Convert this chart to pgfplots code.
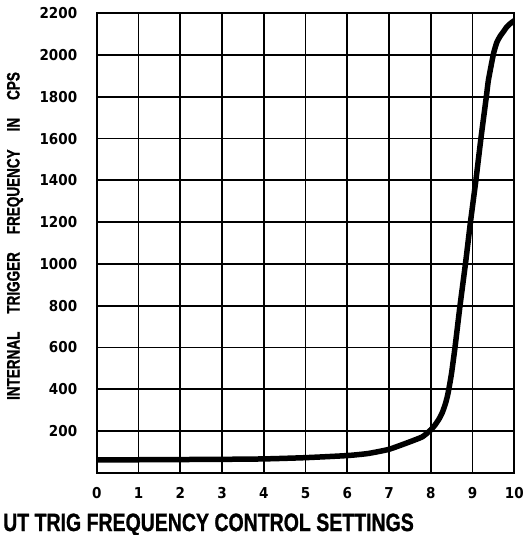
\documentclass[border=0pt]{standalone}
\usepackage{pgfplots}
\pgfplotsset{compat=1.18}
\usepackage{fontspec}
\usepackage{graphicx}
\setmainfont{Liberation Sans}
\newfontfamily\tickfont{DejaVu Sans}[FakeStretch=0.9]
\newfontfamily\titlefont{Liberation Sans}[FakeBold=1.2]
\begin{document}
\begin{tikzpicture}[x=1pt,y=1pt]
\useasboundingbox (0,0) rectangle (524,535);
\begin{axis}[
  at={(96.7pt,62.3pt)}, anchor=south west,
  scale only axis, width=417.6pt, height=459.4pt,
  xmin=0, xmax=10, ymin=0, ymax=2200,
  xtick={0,1,...,10}, ytick={200,400,...,2200},
  grid=major,
  major grid style={black, line width=1.8pt},
  axis line style={black, line width=1.9pt},
  major tick length=0pt,
  tick label style={font=\tickfont\bfseries\fontsize{15}{16}\selectfont},
  /pgf/number format/assume math mode=true,
  /pgf/number format/1000 sep={},
  xticklabel style={yshift=-11pt},
  yticklabel style={xshift=-16pt},
]
\addplot[black, line width=5.5pt, smooth, tension=0.3] coordinates {
(0,62) (1,62) (2,63) (3,64) (4,66) (5,72) (6,82) (6.5,92) (7,112) (7.5,148)
(7.8,172) (8.0,205) (8.1,228) (8.2,258) (8.28,290) (8.35,330) (8.4,368)
(8.45,420) (8.5,480) (8.58,600) (8.70,800) (8.83,1000) (8.95,1200)
(9.08,1400) (9.20,1600) (9.33,1800) (9.38,1880) (9.5,2005) (9.58,2060)
(9.66,2090) (9.75,2115) (9.82,2135) (9.9,2150) (10,2165)
};
\end{axis}
\node[anchor=base west, inner sep=0] at (3,4) {\scalebox{0.78}[1]{\titlefont\fontsize{25}{25}\selectfont\bfseries UT TRIG FREQUENCY CONTROL SETTINGS}};
\node[rotate=90, inner sep=0] at (15,299) {\scalebox{0.75}[1]{\titlefont\fontsize{18}{18}\selectfont\bfseries INTERNAL\hspace{24pt}TRIGGER\hspace{24pt}FREQUENCY\hspace{24pt}IN\hspace{24pt}CPS}};
\end{tikzpicture}
\end{document}
